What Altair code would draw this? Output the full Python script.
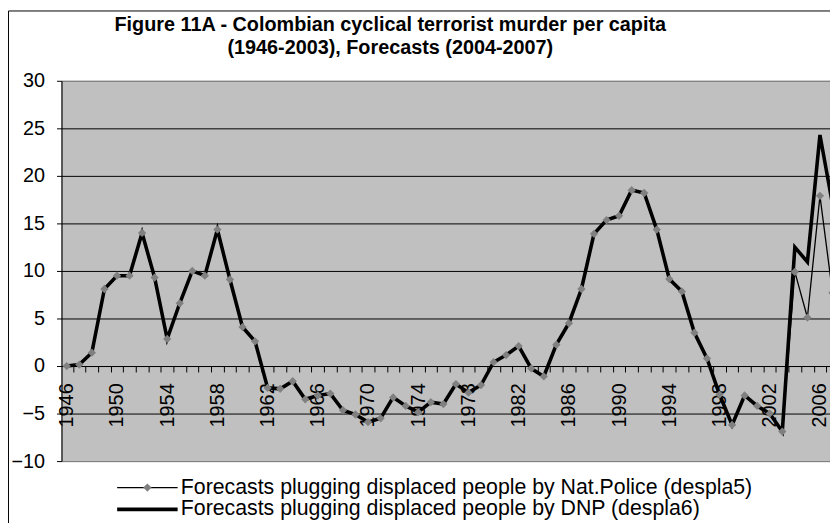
import altair as alt
import pandas as pd

# ---- data ----
years = list(range(1946, 2008))
history = [0.0, 0.15, 1.4, 8.1, 9.5, 9.5, 14.0, 9.3, 2.85, 6.6,
           10.0, 9.5, 14.35, 9.1, 4.1, 2.6, -2.3, -2.4, -1.6, -3.5,
           -3.1, -2.9, -4.65, -5.1, -5.9, -5.5, -3.3, -4.2, -4.85, -3.8,
           -4.0, -1.9, -2.8, -2.0, 0.4, 1.15, 2.1, -0.25, -1.1, 2.25,
           4.5, 8.1, 13.9, 15.35, 15.8, 18.5, 18.2, 14.35, 9.15, 7.85,
           3.5, 0.8, -3.0, -6.2, -3.1, -4.2, -5.0, -6.9]
police_forecast = [9.9, 5.1, 17.9, 7.7]
dnp_forecast = [12.5, 10.95, 24.3, 17.0]
series_names = ["Forecasts plugging displaced people by Nat.Police (despla5)",
                "Forecasts plugging displaced people by DNP (despla6)"]
y_ticks = [-10, -5, 0, 5, 10, 15, 20, 25, 30]
title_lines = ["Figure 11A - Colombian cyclical terrorist murder per capita",
               "(1946-2003), Forecasts (2004-2007)"]

police = history + police_forecast
dnp = history + dnp_forecast
df = pd.DataFrame({
    "year": years + years,
    "value": police + dnp,
    "series": [series_names[0]] * len(years) + [series_names[1]] * len(years),
})

W, H = 776, 384
FONT = "Liberation Sans"
half_year = W / (2006.80 - 1945.58) / 2

xenc = alt.X("year:Q",
             scale=alt.Scale(domain=[1945.58, 2006.80], nice=False, zero=False),
             axis=alt.Axis(values=years, format="d",
                           labelExpr="(datum.value - 1946) % 4 == 0 ? datum.label : ''",
                           labelAngle=-90, labelFont=FONT, labelFontSize=20,
                           labelColor="black", labelPadding=11, labelOverlap=False,
                           labelFlush=False, labelBound=False,
                           tickSize=6, tickColor="black", tickOffset=half_year,
                           labelOffset=-half_year, domainColor="black",
                           offset=-96, grid=False, title=None))
yenc = alt.Y("value:Q",
             scale=alt.Scale(domain=[-10, 30], nice=False, zero=False),
             axis=alt.Axis(values=y_ticks, labelFont=FONT, labelFontSize=20,
                           labelColor="black", labelPadding=12, tickSize=5,
                           tickColor="black", domainColor="black",
                           gridColor={"condition": {"test": "datum.value === 30 || datum.value === -10",
                                                    "value": "#808080"},
                                      "value": "black"},
                           gridOpacity=1, title=None))

SYM = 70  # legend symbol size (diamond width ~8.4 px)
legend_main = alt.Legend(title=None, orient="none", legendX=76, legendY=400,
                         symbolType="M-7.3,0L7.3,0", symbolSize=SYM,
                         symbolStrokeColor="black",
                         labelFont=FONT, labelFontSize=21.5, labelColor="black",
                         labelLimit=900, labelOffset=23, rowPadding=-2, padding=0)

frame = alt.Chart(pd.DataFrame({"a": [0]})).mark_rect(
    fill="transparent", stroke="black", strokeWidth=1
).encode(x=alt.value(-53.5), x2=alt.value(W + 30), y=alt.value(-70.5), y2=alt.value(H + 200))

lines = alt.Chart(df).mark_line(clip=True).encode(
    x=xenc, y=yenc,
    color=alt.Color("series:N", scale=alt.Scale(domain=series_names, range=["black", "black"]),
                    legend=legend_main),
    strokeWidth=alt.StrokeWidth("series:N", scale=alt.Scale(domain=series_names, range=[1.3, 3.6]),
                                legend=legend_main),
)

points = alt.Chart(df).transform_filter(
    alt.datum.series == series_names[0]
).transform_calculate(mk="'m'").mark_point(
    shape="diamond", filled=True, size=SYM, opacity=1, clip=True, strokeWidth=0
).encode(
    x=xenc, y=yenc,
    fill=alt.Fill("mk:N", scale=alt.Scale(domain=["m"], range=["#808080"]),
                  legend=alt.Legend(title=None, orient="none", legendX=76, legendY=400,
                                    symbolType="diamond", symbolSize=SYM,
                                    symbolStrokeWidth=0, labelExpr="''",
                                    labelFontSize=21.5, padding=0)),
)

chart = alt.layer(frame, lines, points).resolve_legend(fill="independent").properties(
    width=W, height=H,
    background="white",
    autosize=alt.AutoSizeParams(type="none"),
    padding={"left": 54, "top": 71, "right": 0, "bottom": 60},
    title=alt.Title(text=title_lines, font=FONT, fontSize=20, fontWeight="bold",
                    color="black", anchor="start", align="center", baseline="bottom",
                    dx=386, lineHeight=23, offset=-68),
).configure_view(
    fill="#C0C0C0", stroke="#808080", strokeWidth=1
)

chart.save("out.html", embed_options={"renderer": "svg", "actions": False})
